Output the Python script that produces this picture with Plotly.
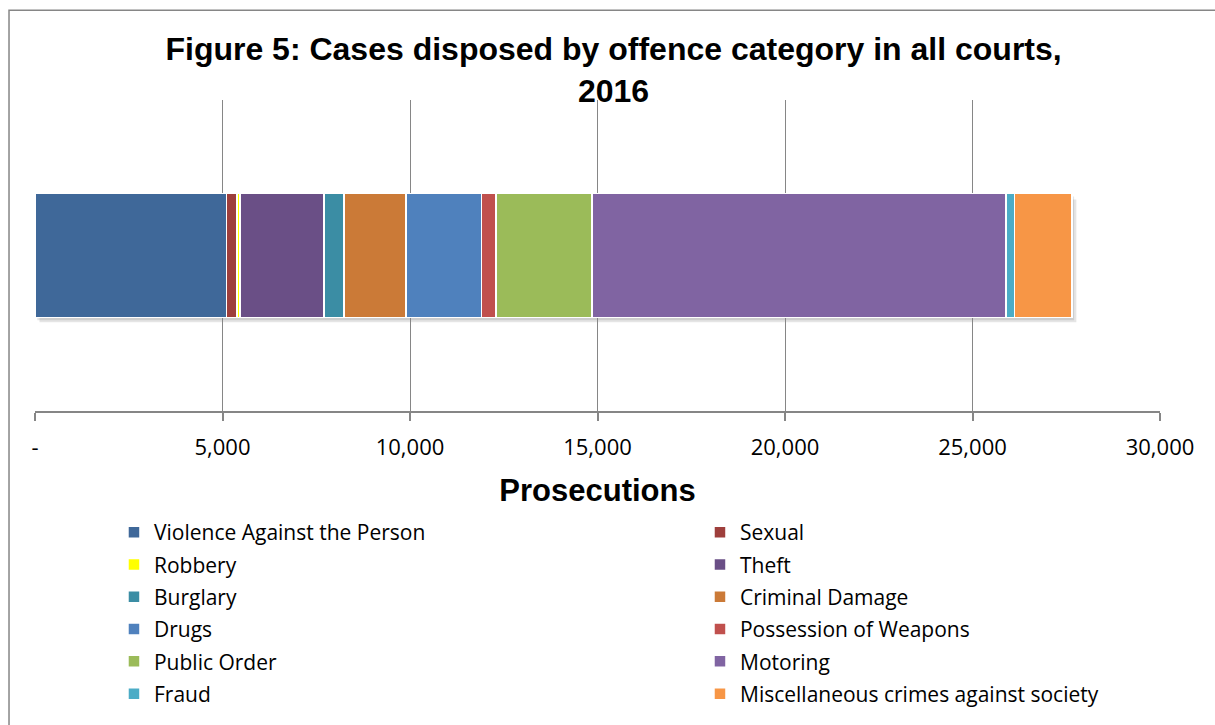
import plotly.graph_objects as go

# Prosecutions by offence category, 2016 (all courts)
categories = [
    "Violence Against the Person", "Sexual", "Robbery", "Theft", "Burglary",
    "Criminal Damage", "Drugs", "Possession of Weapons", "Public Order",
    "Motoring", "Fraud", "Miscellaneous crimes against society",
]
values = [5100, 280, 90, 2240, 530, 1650, 2010, 390, 2560, 11040, 230, 1530]
colors = [
    "#3F6899", "#9E3F3C", "#FFFF00", "#6A4F86", "#3B8DA4", "#CB7A37",
    "#4F81BD", "#C0504D", "#9BBB59", "#8064A2", "#4BACC6", "#F79646",
]
tick_values = [0, 5000, 10000, 15000, 20000, 25000, 30000]
tick_labels = ["-", "5,000", "10,000", "15,000", "20,000", "25,000", "30,000"]

row = ["2016"]
fig = go.Figure()
for i, (name, val, col) in enumerate(zip(categories, values, colors)):
    # legend entries alternate between a left and a right column
    fig.add_trace(go.Bar(
        y=row, x=[val], name=name, orientation="h",
        legend="legend" if i % 2 == 0 else "legend2",
        legendgroup=name,
        marker=dict(color=col, line=dict(color="white", width=1.5)),
    ))

total = sum(values)
grey = "#868686"

# soft drop shadow under the stacked bar
fig.add_shape(type="rect", xref="x", yref="y", layer="below",
              x0=120, x1=total + 120, y0=-0.215, y1=0.18,
              fillcolor="rgba(0,0,0,0.10)", line_width=0)
fig.add_shape(type="rect", xref="x", yref="y", layer="below",
              x0=60, x1=total + 60, y0=-0.208, y1=0.19,
              fillcolor="rgba(0,0,0,0.10)", line_width=0)

# outer chart border
fig.add_shape(type="rect", xref="paper", yref="paper",
              x0=-0.0231, x1=1.2, y0=-1.5, y1=1.2885,
              line=dict(color=grey, width=1.5), fillcolor="rgba(0,0,0,0)")

legend_style = dict(
    orientation="v", yanchor="top", xanchor="left", y=-0.3205,
    traceorder="grouped", tracegroupgap=2,
    font=dict(family="Open Sans", size=21, color="black"),
    bgcolor="rgba(0,0,0,0)",
)

fig.update_layout(
    barmode="stack",
    bargap=0.6,
    width=1215, height=725,
    margin=dict(l=35, r=55, t=100, b=313),
    paper_bgcolor="white", plot_bgcolor="white",
    font=dict(family="Open Sans", color="black"),
    title=dict(
        text="Figure 5: Cases disposed by offence category in all courts,<br>2016",
        x=0.505, xanchor="center", xref="container",
        y=1 - 60 / 725, yanchor="middle", yref="container",
        font=dict(family="Liberation Sans", size=32, color="black", weight="bold"),
    ),
    xaxis=dict(
        range=[0, 30000], tickvals=tick_values, ticktext=tick_labels,
        showgrid=True, gridcolor=grey, gridwidth=1, zeroline=False,
        showline=True, linecolor=grey, linewidth=1.5,
        ticks="outside", ticklen=8, tickcolor=grey, tickwidth=1.5,
        ticklabelstandoff=8,
        tickfont=dict(family="Open Sans", size=22, color="black"),
        title=dict(text="<b>Prosecutions</b>", standoff=19,
                   font=dict(family="Liberation Sans", size=31, color="black")),
    ),
    yaxis=dict(showticklabels=False, showgrid=False, zeroline=False, showline=False,
               range=[-0.5, 0.5]),
    legend=dict(x=0.0702, **legend_style),
    legend2=dict(x=0.5911, **legend_style),
)

fig.write_html("out.html")
